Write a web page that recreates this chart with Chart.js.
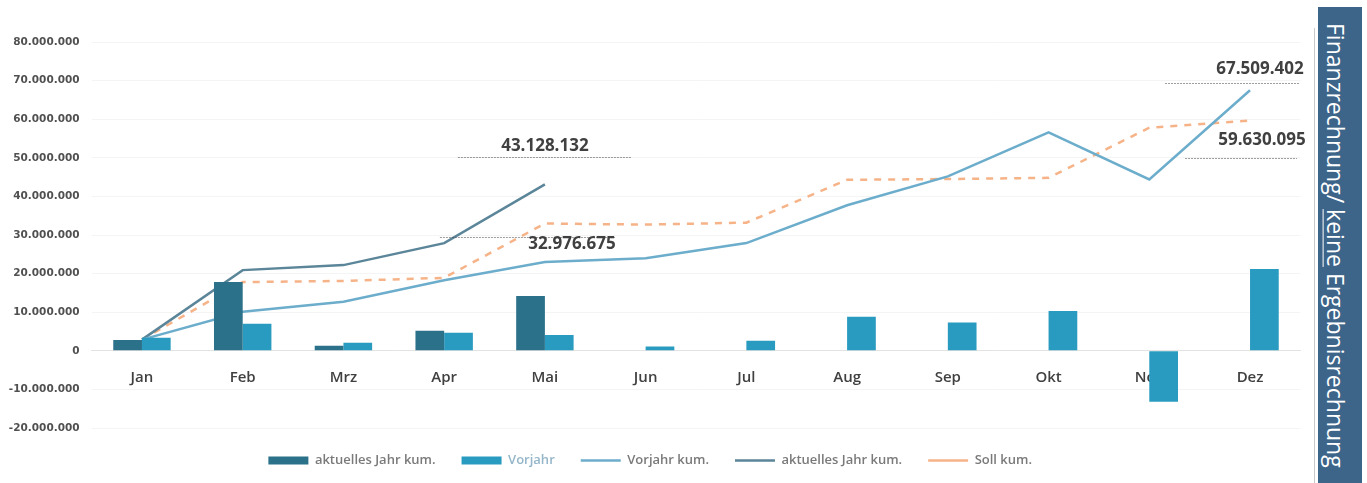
<!DOCTYPE html>
<html><head><meta charset="utf-8">
<script src="https://cdn.jsdelivr.net/npm/chart.js@4.4.1/dist/chart.umd.min.js"></script>
<style>
html,body{margin:0;padding:0;background:#fff;}
#wrap{position:relative;width:1367px;height:483px;overflow:hidden;background:#fff;}
#c{position:absolute;left:0;top:0;}
#sep{position:absolute;left:1314px;top:28px;width:1px;height:455px;background:#c9c9c9;}
#banner{position:absolute;left:1318px;top:7px;width:44px;height:476px;background:#3d6489;color:#fff;box-sizing:border-box;padding-right:9px;
  writing-mode:vertical-rl;font-family:'Open Sans',sans-serif;font-size:23px;display:flex;align-items:center;justify-content:center;white-space:nowrap;}
#banner u{text-decoration-thickness:1px;}
</style></head><body>
<div id="wrap">
<canvas id="c" width="1367" height="483"></canvas>
<div id="sep"></div>
<div id="banner"><span>Finanzrechnung/ <u>keine</u> Ergebnisrechnung</span></div>
</div>
<script>
// ---- data (values in EUR) ----
const months = ['Jan','Feb','Mrz','Apr','Mai','Jun','Jul','Aug','Sep','Okt','Nov','Dez'];
const aktuellesJahrMonat = [2800000, 17800000, 1300000, 5200000, 14200000, null, null, null, null, null, null, null];
const vorjahrMonat = [3400000, 7000000, 2100000, 4700000, 4100000, 1100000, 2600000, 8800000, 7300000, 10300000, -13200000, 21200000];
const vorjahrKum = [2900000, 10100000, 12700000, 18300000, 23000000, 24000000, 27900000, 37700000, 45200000, 56600000, 44400000, 67509402];
const aktuellesJahrKum = [2900000, 20900000, 22200000, 27900000, 43128132, null, null, null, null, null, null, null];
const sollKum = [2900000, 17800000, 18100000, 18900000, 32976675, 32700000, 33200000, 44300000, 44500000, 44800000, 57800000, 59630095];
const seriesNames = ['aktuelles Jahr kum.', 'Vorjahr', 'Vorjahr kum.', 'aktuelles Jahr kum.', 'Soll kum.'];
const yMin = -20000000, yMax = 80000000, yStep = 10000000;
// labelled points: [datasetIndex, monthIndex]
const labelledPoints = [[3, 4], [4, 4], [2, 11], [4, 11]];

const fmt = n => Math.round(n).toString().replace(/\B(?=(\d{3})+(?!\d))/g, '.');

Chart.defaults.font.family = "'Open Sans', sans-serif";

// label placement (style only): text offset from point, underline offset/extent
const labelStyle = {
  '3-4':  {dx: 0,  dy: -38, uy: 11, ul: -87, ur: 87},
  '4-4':  {dx: 27, dy: 21,  uy: -8, ul: -132, ur: 43},
  '2-11': {dx: 10, dy: -21, uy: 14, ul: -95, ur: 40},
  '4-11': {dx: 12, dy: 20,  uy: 17, ul: -77, ur: 35}
};

const dataLabelPlugin = {
  id: 'dataLabels',
  afterDatasetsDraw(chart) {
    const ctx = chart.ctx;
    ctx.save();
    ctx.font = "bold 17px 'Open Sans', sans-serif";
    ctx.textAlign = 'center';
    ctx.textBaseline = 'middle';
    labelledPoints.forEach(([di, pi]) => {
      const el = chart.getDatasetMeta(di).data[pi];
      const v = chart.data.datasets[di].data[pi];
      const st = labelStyle[di + '-' + pi];
      const x = el.x + st.dx, y = el.y + st.dy;
      ctx.fillStyle = '#404040';
      ctx.fillText(fmt(v), x, y);
      ctx.strokeStyle = 'rgba(60,60,60,0.5)';
      ctx.lineWidth = 1;
      ctx.setLineDash([2, 1]);
      ctx.beginPath();
      const uy = Math.round(y + st.uy) + 0.5;
      ctx.moveTo(x + st.ul, uy);
      ctx.lineTo(x + st.ur, uy);
      ctx.stroke();
    });
    ctx.restore();
  }
};

new Chart(document.getElementById('c'), {
  data: {
    labels: months,
    datasets: [
      {type: 'bar', label: seriesNames[0], data: aktuellesJahrMonat, backgroundColor: '#2b7189', order: 0, pointStyle: 'rect'},
      {type: 'bar', label: seriesNames[1], data: vorjahrMonat, backgroundColor: '#2a9bc0', order: 0, pointStyle: 'rect'},
      {type: 'line', label: seriesNames[2], data: vorjahrKum, borderColor: '#6cadcc', backgroundColor: '#6cadcc', borderWidth: 2.5, pointRadius: 0, pointStyle: 'line', tension: 0, order: 1},
      {type: 'line', label: seriesNames[3], data: aktuellesJahrKum, borderColor: '#5b8599', backgroundColor: '#5b8599', borderWidth: 2.5, pointRadius: 0, pointStyle: 'line', tension: 0, order: 1},
      {type: 'line', label: seriesNames[4], data: sollKum, borderColor: '#f6b388', backgroundColor: '#f6b388', borderWidth: 2.5, borderDash: [7, 7], pointRadius: 0, pointStyle: 'line', tension: 0, order: 1}
    ]
  },
  options: {
    responsive: false,
    animation: false,
    layout: {padding: {top: 42, right: 66.6, bottom: 6, left: 0}},
    datasets: {bar: {categoryPercentage: 0.57, barPercentage: 1.0}},
    plugins: {
      tooltip: {enabled: false},
      legend: {
        position: 'bottom',
        labels: {
          usePointStyle: true, pointStyleWidth: 40, boxHeight: 8, padding: 26,
          font: {size: 13, weight: '600'}, color: '#7a7a7a',
          generateLabels(chart) {
            const items = Chart.defaults.plugins.legend.labels.generateLabels(chart);
            items.forEach(it => { it.fontColor = it.datasetIndex === 1 ? '#94b6c8' : '#7a7a7a'; });
            return items;
          }
        }
      }
    },
    scales: {
      x: {
        type: 'category',
        position: {y: 0},
        grid: {display: false, drawTicks: false},
        border: {display: true, color: '#e3e3e3'},
        ticks: {padding: 18, color: '#404040', font: {size: 15, weight: '600'}}
      },
      y: {
        min: yMin, max: yMax,
        afterFit(s) { s.width = 91.6; },
        grid: {color: '#f4f4f4', drawTicks: false},
        border: {display: false},
        ticks: {stepSize: yStep, padding: 12, color: '#505050', font: {family: "'DejaVu Sans', sans-serif", size: 10.5, weight: 'bold'},
          callback: v => fmt(v)}
      }
    }
  },
  plugins: [dataLabelPlugin]
});
</script>
</body></html>
